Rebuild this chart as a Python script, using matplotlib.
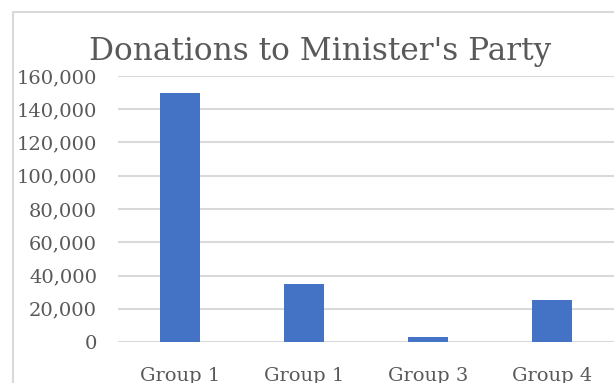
import matplotlib
matplotlib.use("Agg")
import matplotlib.pyplot as plt
from matplotlib.patches import Rectangle
from matplotlib.ticker import FuncFormatter

categories = ["Group 1", "Group 1", "Group 3", "Group 4"]
values = [150000, 35000, 3000, 25000]
title = "Donations to Minister's Party"

W, H = 614, 383
fig = plt.figure(figsize=(W / 100, H / 100), dpi=100)
fig.patch.set_facecolor("white")

font = "DejaVu Serif"
txt = "#595959"
grid = "#d9d9d9"

# outer chart border (clipped at right/bottom)
fig.patches.append(Rectangle((13 / W, -0.1), 1.2, (H - 12) / H + 0.1,
                             transform=fig.transFigure, fill=False,
                             edgecolor=grid, linewidth=1.5))

ax = fig.add_axes([118 / W, 41 / H, (W - 118) / W, (342 - 76) / H])
x = list(range(len(categories)))
ax.bar(x, values, width=0.32, color="#4472C4", zorder=3)
ax.set_xlim(-0.5, len(categories) - 0.5)
ax.set_ylim(0, 160000)
ax.set_yticks(range(0, 160001, 20000))
ax.yaxis.set_major_formatter(FuncFormatter(lambda v, p: f"{int(v):,}"))
ax.set_xticks(x)
ax.set_xticklabels(categories)
ax.grid(axis="y", color=grid, linewidth=1.5, zorder=0)
for s in ax.spines.values():
    s.set_visible(False)
ax.tick_params(length=0, colors=txt, labelsize=14)
ax.tick_params(axis="y", pad=15)
ax.tick_params(axis="x", pad=18)
for lab in ax.get_xticklabels() + ax.get_yticklabels():
    lab.set_family(font)
    lab.set_color(txt)

fig.text(320 / W, 1 - 60 / H, title, ha="center", va="baseline",
         fontsize=22.5, family=font, color=txt)

fig.savefig("out.png", dpi=100)
